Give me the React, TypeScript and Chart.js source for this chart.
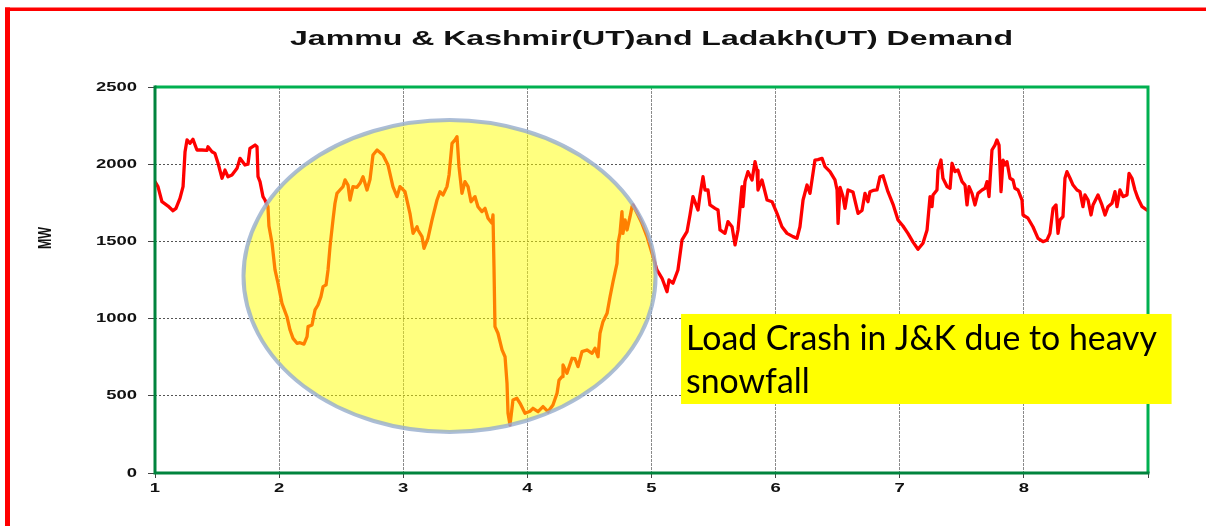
import React, { useEffect, useRef } from 'react';
import { Chart, registerables } from 'chart.js';

Chart.register(...registerables);

// ---- Data (x in days, y in MW) ----
const days: number[] = [
  1.000, 1.024, 1.056, 1.105, 1.145, 1.169, 1.201, 1.226, 1.242, 1.258,
  1.282, 1.306, 1.338, 1.379, 1.419, 1.427, 1.459, 1.483, 1.508, 1.540,
  1.564, 1.588, 1.620, 1.661, 1.685, 1.725, 1.749, 1.765, 1.806, 1.822,
  1.830, 1.846, 1.870, 1.886, 1.910, 1.918, 1.943, 1.967, 1.991, 2.023,
  2.063, 2.088, 2.112, 2.144, 2.168, 2.200, 2.225, 2.233, 2.265, 2.289,
  2.313, 2.337, 2.354, 2.378, 2.394, 2.410, 2.434, 2.450, 2.466, 2.490,
  2.515, 2.531, 2.555, 2.571, 2.595, 2.627, 2.652, 2.676, 2.708, 2.732,
  2.756, 2.789, 2.837, 2.877, 2.917, 2.950, 2.974, 3.014, 3.054, 3.079,
  3.111, 3.119, 3.151, 3.167, 3.199, 3.232, 3.272, 3.296, 3.320, 3.352,
  3.369, 3.393, 3.417, 3.433, 3.449, 3.473, 3.497, 3.522, 3.546, 3.578,
  3.602, 3.634, 3.659, 3.683, 3.715, 3.723, 3.731, 3.739, 3.763, 3.796,
  3.820, 3.836, 3.844, 3.860, 3.884, 3.916, 3.941, 3.981, 4.021, 4.045,
  4.086, 4.126, 4.166, 4.206, 4.239, 4.255, 4.279, 4.287, 4.319, 4.360,
  4.384, 4.408, 4.440, 4.480, 4.521, 4.545, 4.569, 4.585, 4.609, 4.642,
  4.666, 4.690, 4.722, 4.730, 4.746, 4.762, 4.770, 4.787, 4.803, 4.827,
  4.843, 4.851, 4.891, 4.923, 4.964, 5.004, 5.044, 5.085, 5.125, 5.141,
  5.173, 5.213, 5.246, 5.286, 5.310, 5.334, 5.375, 5.391, 5.415, 5.431,
  5.455, 5.471, 5.512, 5.536, 5.552, 5.592, 5.616, 5.649, 5.673, 5.697,
  5.729, 5.737, 5.753, 5.777, 5.810, 5.834, 5.850, 5.858, 5.890, 5.931,
  5.971, 6.011, 6.051, 6.092, 6.140, 6.172, 6.196, 6.221, 6.253, 6.277,
  6.317, 6.341, 6.374, 6.398, 6.438, 6.478, 6.495, 6.503, 6.519, 6.543,
  6.559, 6.583, 6.623, 6.664, 6.696, 6.720, 6.744, 6.760, 6.785, 6.817,
  6.841, 6.865, 6.905, 6.946, 6.986, 7.026, 7.066, 7.107, 7.147, 7.187,
  7.220, 7.244, 7.260, 7.268, 7.300, 7.308, 7.332, 7.348, 7.381, 7.405,
  7.421, 7.445, 7.469, 7.502, 7.526, 7.542, 7.558, 7.582, 7.606, 7.630,
  7.663, 7.687, 7.703, 7.719, 7.743, 7.767, 7.783, 7.800, 7.816, 7.832,
  7.848, 7.864, 7.888, 7.912, 7.928, 7.953, 7.985, 7.993, 8.033, 8.073,
  8.114, 8.154, 8.186, 8.210, 8.235, 8.259, 8.275, 8.291, 8.315, 8.331,
  8.347, 8.372, 8.396, 8.428, 8.452, 8.476, 8.492, 8.517, 8.541, 8.557,
  8.597, 8.629, 8.654, 8.678, 8.710, 8.734, 8.750, 8.774, 8.799, 8.831,
  8.847, 8.871, 8.895, 8.919, 8.952, 8.992, 9.000,
];

const demandMW: number[] = [
  1887, 1855, 1757, 1729, 1699, 1714, 1779, 1855, 2081, 2157,
  2135, 2161, 2092, 2092, 2090, 2113, 2081, 2070, 2006, 1909,
  1962, 1919, 1930, 1973, 2038, 1995, 2000, 2103, 2124, 2113,
  1919, 1887, 1790, 1768, 1725, 1600, 1488, 1315, 1229, 1099,
  1012, 926, 872, 840, 844, 835, 883, 948, 959, 1056,
  1088, 1142, 1207, 1218, 1315, 1466, 1639, 1747, 1811, 1833,
  1855, 1898, 1865, 1768, 1855, 1850, 1876, 1919, 1833, 1900,
  2060, 2092, 2060, 1995, 1855, 1790, 1855, 1822, 1682, 1552,
  1595, 1574, 1531, 1455, 1520, 1639, 1768, 1822, 1801, 1855,
  1930, 2135, 2157, 2178, 1984, 1811, 1887, 1855, 1757, 1790,
  1725, 1693, 1714, 1650, 1617, 1671, 1336, 948, 905, 797,
  753, 581, 387, 311, 473, 484, 451, 387, 400, 419,
  397, 430, 397, 440, 516, 602, 624, 700, 646, 743,
  740, 689, 786, 797, 775, 808, 753, 905, 980, 1034,
  1142, 1239, 1358, 1488, 1552, 1693, 1552, 1639, 1574, 1660,
  1725, 1736, 1671, 1617, 1531, 1423, 1315, 1261, 1174, 1250,
  1229, 1315, 1510, 1563, 1671, 1790, 1703, 1801, 1919, 1833,
  1833, 1736, 1714, 1703, 1574, 1552, 1628, 1595, 1477, 1574,
  1855, 1725, 1887, 1952, 1898, 2016, 1960, 1833, 1898, 1768,
  1757, 1682, 1595, 1552, 1531, 1520, 1595, 1768, 1865, 1811,
  2027, 2030, 2038, 1984, 1952, 1898, 1833, 1617, 1850, 1790,
  1714, 1833, 1820, 1682, 1700, 1811, 1757, 1822, 1830, 1833,
  1919, 1925, 1822, 1740, 1639, 1600, 1552, 1495, 1449, 1488,
  1574, 1790, 1725, 1801, 1833, 1962, 2027, 1909, 1855, 1844,
  2006, 1952, 1962, 1887, 1865, 1736, 1855, 1811, 1736, 1811,
  1833, 1844, 1887, 1790, 2092, 2124, 2157, 2124, 1822, 2027,
  1995, 2016, 1909, 1898, 1844, 1833, 1768, 1671, 1650, 1595,
  1520, 1498, 1509, 1552, 1714, 1736, 1552, 1639, 1660, 1909,
  1952, 1909, 1865, 1833, 1822, 1725, 1801, 1768, 1671, 1736,
  1801, 1736, 1671, 1725, 1747, 1822, 1725, 1833, 1790, 1801,
  1941, 1909, 1833, 1779, 1725, 1703, 1703,
];

const xTickLabels: string[] = ['1', '2', '3', '4', '5', '6', '7', '8'];
const yTickValues: number[] = [0, 500, 1000, 1500, 2000, 2500];
const chartTitle = 'Jammu & Kashmir(UT)and Ladakh(UT) Demand';
const yAxisTitle = 'MW';
const noteLines: string[] = ['Load Crash in J&K due to heavy', 'snowfall'];

// annotation geometry in data units (days, MW)
const highlightEllipse = { cx: 3.373, cy: 1276, rx: 1.66, ry: 1010 };
const noteBox = { left: 5.238, right: 9.19, top: 1030, bottom: 447 };

const W = 1206;
const H = 526;
const STRETCH = 1.42;

const decorPlugin = {
  id: 'decor',
  afterDraw(chart: any) {
    const ctx: CanvasRenderingContext2D = chart.ctx;
    const { left, right, top, bottom } = chart.chartArea;
    const xs = chart.scales.x;
    const ys = chart.scales.y;
    ctx.save();

    // plot border
    ctx.setLineDash([]);
    ctx.lineWidth = 3;
    ctx.strokeStyle = '#00b050';
    ctx.beginPath();
    ctx.moveTo(left, top);
    ctx.lineTo(right, top);
    ctx.lineTo(right, bottom);
    ctx.stroke();
    ctx.strokeStyle = '#00843d';
    ctx.beginPath();
    ctx.moveTo(left, top - 1.5);
    ctx.lineTo(left, bottom);
    ctx.lineTo(right + 1.5, bottom);
    ctx.stroke();

    // highlight ellipse
    const ecx = xs.getPixelForValue(highlightEllipse.cx);
    const ecy = ys.getPixelForValue(highlightEllipse.cy);
    const erx = xs.getPixelForValue(highlightEllipse.cx + highlightEllipse.rx) - ecx;
    const ery = ecy - ys.getPixelForValue(highlightEllipse.cy + highlightEllipse.ry);
    ctx.beginPath();
    ctx.ellipse(ecx, ecy, erx, ery, 0, 0, Math.PI * 2);
    ctx.fillStyle = 'rgba(255,255,0,0.5)';
    ctx.fill();
    ctx.lineWidth = 4;
    ctx.strokeStyle = 'rgba(150,172,205,0.8)';
    ctx.stroke();

    // note box
    const bx0 = xs.getPixelForValue(noteBox.left);
    const bx1 = xs.getPixelForValue(noteBox.right);
    const by0 = ys.getPixelForValue(noteBox.top);
    const by1 = ys.getPixelForValue(noteBox.bottom);
    ctx.fillStyle = '#ffff00';
    ctx.fillRect(bx0, by0, bx1 - bx0, by1 - by0);
    ctx.fillStyle = '#000000';
    ctx.font = '35px Lato, "Open Sans", sans-serif';
    ctx.textAlign = 'left';
    ctx.textBaseline = 'alphabetic';
    const w1 = ctx.measureText(noteLines[0]).width;
    const sxNote = 471 / w1;
    noteLines.forEach((line, i) => {
      ctx.save();
      ctx.translate(bx0 + 5, by0 + 36 + i * 43);
      ctx.scale(sxNote, 1);
      ctx.fillText(line, 0, 0);
      ctx.restore();
    });

    // title
    ctx.fillStyle = '#111111';
    ctx.font = 'bold 21px "Liberation Sans", Arial, sans-serif';
    const tw = ctx.measureText(chartTitle).width;
    ctx.save();
    ctx.translate((left + right) / 2, 44.5);
    ctx.scale(723 / tw, 1);
    ctx.textAlign = 'center';
    ctx.fillText(chartTitle, 0, 0);
    ctx.restore();

    // y tick labels
    ctx.font = 'bold 13px "Liberation Sans", Arial, sans-serif';
    ctx.textBaseline = 'middle';
    yTickValues.forEach((v) => {
      const py = ys.getPixelForValue(v);
      ctx.save();
      ctx.translate(left - 18, py);
      ctx.scale(STRETCH, 1);
      ctx.textAlign = 'right';
      ctx.fillText(String(v), 0, 0);
      ctx.restore();
    });

    // x tick labels
    xTickLabels.forEach((lab) => {
      const px = xs.getPixelForValue(Number(lab));
      ctx.save();
      ctx.translate(px, bottom + 15.5);
      ctx.scale(STRETCH, 1);
      ctx.textAlign = 'center';
      ctx.fillText(lab, 0, 0);
      ctx.restore();
    });

    // y axis title
    ctx.font = 'bold 12.5px "Liberation Sans", Arial, sans-serif';
    ctx.save();
    ctx.translate(46, (top + bottom) / 2 - 42);
    ctx.scale(1.45, 1);
    ctx.rotate(-Math.PI / 2);
    ctx.textAlign = 'center';
    ctx.textBaseline = 'middle';
    ctx.fillText(yAxisTitle, 0, 0);
    ctx.restore();

    // outer red frame
    ctx.fillStyle = '#ff0000';
    ctx.fillRect(5, 7.5, W - 5, 3.5);
    ctx.fillRect(5, 7.5, 5, H - 7.5);

    ctx.restore();
  },
};

export default function App() {
  const canvasRef = useRef<HTMLCanvasElement | null>(null);

  useEffect(() => {
    document.body.style.margin = '0';
    document.body.style.background = '#ffffff';
    const canvas = canvasRef.current;
    if (!canvas) return;
    const points = days.map((d, i) => ({ x: d, y: demandMW[i] }));
    const chart = new Chart(canvas, {
      type: 'line',
      data: {
        datasets: [
          {
            data: points,
            borderColor: '#ff0000',
            borderWidth: 3.3,
            borderJoinStyle: 'round',
            borderCapStyle: 'round',
            pointRadius: 0,
            tension: 0,
            fill: false,
          },
        ],
      },
      options: {
        animation: false,
        responsive: false,
        devicePixelRatio: 1,
        parsing: false,
        layout: { padding: { top: 87, right: 58, left: 0, bottom: 0 } },
        plugins: {
          legend: { display: false },
          tooltip: { enabled: false },
          title: { display: false },
        },
        scales: {
          x: {
            type: 'linear',
            min: 1,
            max: 9,
            afterFit: (scale: any) => {
              scale.height = 53;
            },
            ticks: { stepSize: 1, display: false },
            grid: {
              color: '#8a8a8a',
              lineWidth: 1,
              tickLength: 5,
              tickColor: '#444444',
              tickBorderDash: [],
            },
            border: { display: false, dash: [3, 1] },
          },
          y: {
            type: 'linear',
            min: 0,
            max: 2500,
            afterFit: (scale: any) => {
              scale.width = 155;
            },
            ticks: { stepSize: 500, display: false },
            grid: {
              color: '#555555',
              lineWidth: 1,
              tickLength: 7,
              tickColor: '#444444',
              tickBorderDash: [],
            },
            border: { display: false, dash: [2, 2] },
          },
        },
      },
      plugins: [decorPlugin],
    } as any);
    return () => chart.destroy();
  }, []);

  return (
    <div style={{ width: W, height: H }}>
      <canvas ref={canvasRef} width={W} height={H} style={{ display: 'block' }} />
    </div>
  );
}
